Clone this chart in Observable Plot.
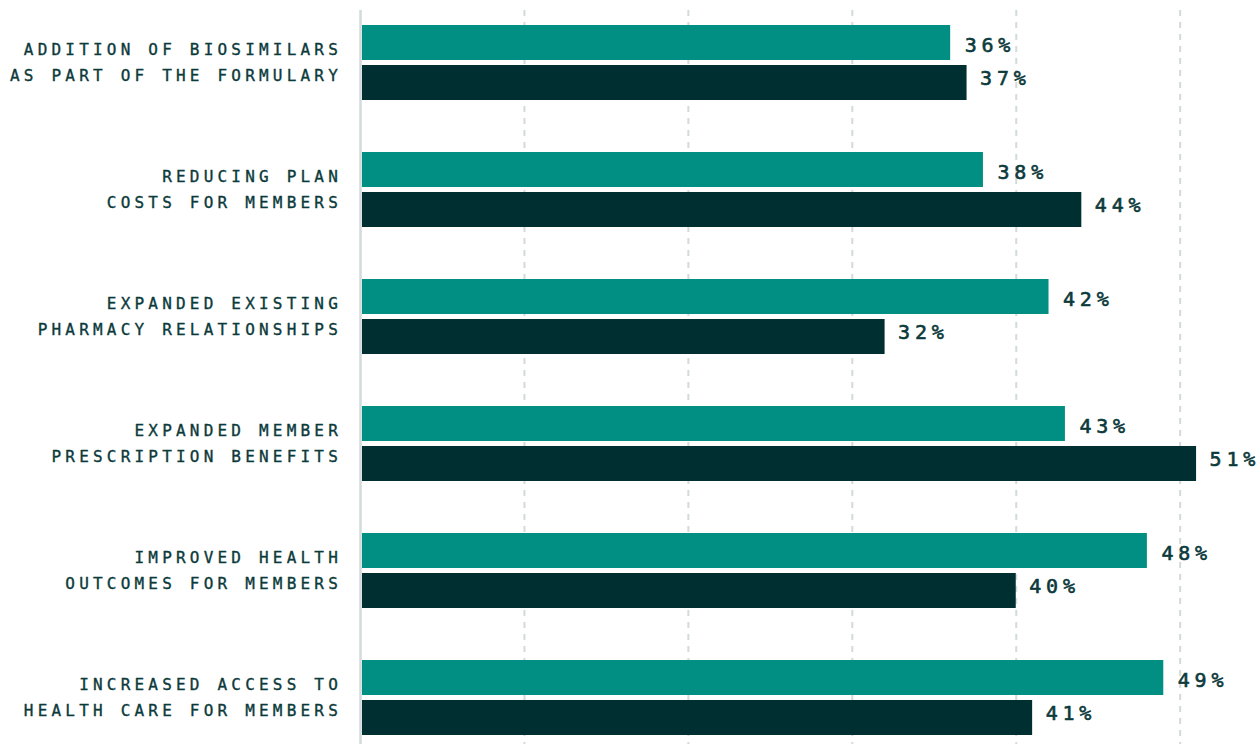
<!DOCTYPE html>
<html>
<head>
<meta charset="utf-8">
<script src="https://cdn.jsdelivr.net/npm/d3@7"></script>
<script src="https://cdn.jsdelivr.net/npm/@observablehq/plot@0.6"></script>
<style>
  html, body { margin: 0; padding: 0; background: #fff; }
  [aria-description="category labels"] text { letter-spacing: 4.2px; }
  [aria-description="value labels"] text { letter-spacing: 4.8px; }
</style>
</head>
<body>
<div id="chart"></div>
<script>
const categories = [
  "ADDITION OF BIOSIMILARS\nAS PART OF THE FORMULARY",
  "REDUCING PLAN\nCOSTS FOR MEMBERS",
  "EXPANDED EXISTING\nPHARMACY RELATIONSHIPS",
  "EXPANDED MEMBER\nPRESCRIPTION BENEFITS",
  "IMPROVED HEALTH\nOUTCOMES FOR MEMBERS",
  "INCREASED ACCESS TO\nHEALTH CARE FOR MEMBERS"
];
const seriesA = [36, 38, 42, 43, 48, 49];   // teal bars
const seriesB = [37, 44, 32, 51, 40, 41];   // dark bars
const gridTicks = [10, 20, 30, 40, 50];

const dataA = categories.map((c, i) => ({category: c, value: seriesA[i]}));
const dataB = categories.map((c, i) => ({category: c, value: seriesB[i]}));

const teal = "#008f82";
const dark = "#002f31";
const textColor = "#0c3a3b";
const gridColor = "#d3dada";

const chart = Plot.plot({
  width: 1260,
  height: 744,
  marginLeft: 360,
  marginRight: 0,
  marginTop: 16,
  marginBottom: 0,
  style: {fontFamily: "'DejaVu Sans Mono', monospace", color: textColor, background: "#fff"},
  x: {domain: [0, 54.9], axis: null},
  y: {domain: categories, paddingInner: 0.4094, paddingOuter: 0.0709, round: false, axis: null},
  marks: [
    Plot.ruleX(gridTicks, {stroke: gridColor, strokeWidth: 2, strokeDasharray: "6,6", insetTop: -6}),
    Plot.barX(dataA, {y: "category", x: "value", fill: teal, insetBottom: 40, insetLeft: 2}),
    Plot.barX(dataB, {y: "category", x: "value", fill: dark, insetTop: 40, insetLeft: 2}),
    Plot.ruleX([0], {stroke: gridColor, strokeWidth: 2.5, insetTop: -6}),
    Plot.text(dataA, {y: "category", x: "value", text: d => d.value + "%", textAnchor: "start", dx: 14, dy: -17, fontSize: 20, fill: textColor, stroke: textColor, strokeWidth: 0.6, ariaDescription: "value labels"}),
    Plot.text(dataB, {y: "category", x: "value", text: d => d.value + "%", textAnchor: "start", dx: 13, dy: 16, fontSize: 20, fill: textColor, stroke: textColor, strokeWidth: 0.6, ariaDescription: "value labels"}),
    Plot.text(categories, {y: d => d, text: d => d, frameAnchor: "left", textAnchor: "end", dx: -18.5, dy: -3, fontSize: 16, lineHeight: 1.6, fill: textColor, stroke: textColor, strokeWidth: 0.35, ariaDescription: "category labels"})
  ]
});
document.getElementById("chart").appendChild(chart);
</script>
</body>
</html>
